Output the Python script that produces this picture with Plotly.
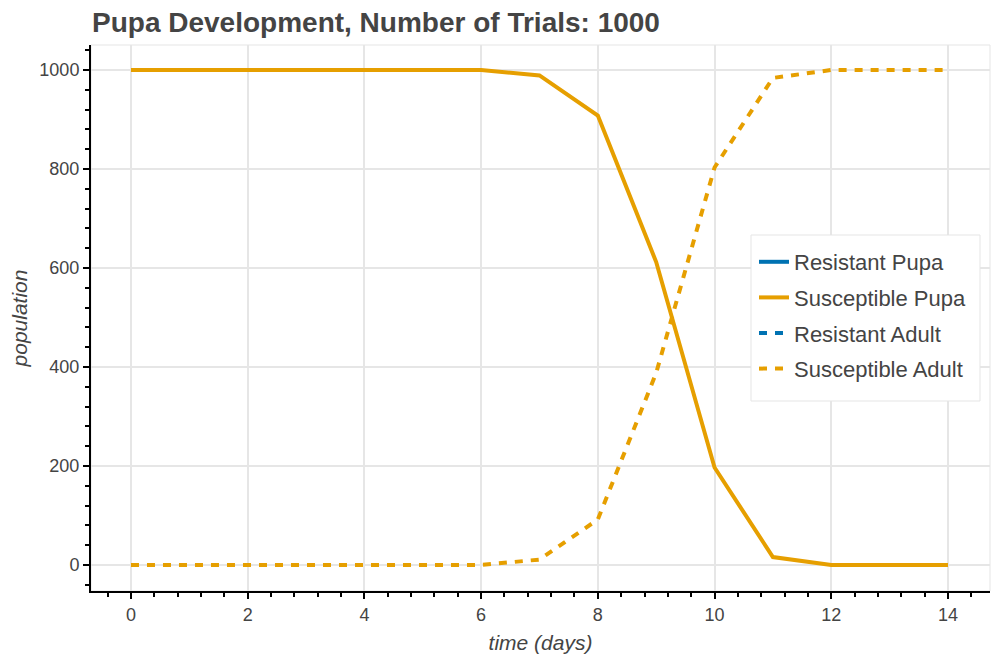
import plotly.graph_objects as go

days = list(range(15))
# resistant series carry no data points in the reference (nothing drawn)
resistant_pupa = [None]*15
susceptible_pupa = [1000, 1000, 1000, 1000, 1000, 1000, 1000, 989, 908, 612, 197, 16, 0, 0, 0]
resistant_adult = [None]*15
susceptible_adult = [0, 0, 0, 0, 0, 0, 0, 11, 92, 388, 803, 984, 1000, 1000, 1000]

BLUE = "#0072B2"
ORANGE = "#E69F00"
FONT = "Liberation Sans, Arial, Helvetica, sans-serif"
TXT = "#444444"

fig = go.Figure()
series = [
    ("Resistant Pupa", resistant_pupa, BLUE, "solid"),
    ("Susceptible Pupa", susceptible_pupa, ORANGE, "solid"),
    ("Resistant Adult", resistant_adult, BLUE, "8px,8px"),
    ("Susceptible Adult", susceptible_adult, ORANGE, "8px,8px"),
]
for i, (name, vals, col, dash) in enumerate(series):
    fig.add_trace(go.Scatter(x=days, y=vals, mode="lines", name=name,
                             legendgroup=f"g{i}", showlegend=True,
                             line=dict(color=col, width=4, dash=dash)))

axis_common = dict(
    showline=True, linecolor="black", linewidth=2,
    ticks="outside", ticklen=6, tickwidth=1.5, tickcolor="black",
    showgrid=True, gridcolor="#e6e6e6", gridwidth=2,
    zeroline=False,
    tickfont=dict(family=FONT, size=18, color=TXT),
)

PW, PH, L, B = 899, 546, 91, 591
fig.update_layout(
    width=997, height=662,
    margin=dict(l=91, r=7, t=45, b=71),
    paper_bgcolor="white", plot_bgcolor="white",
    title=dict(text="<b>Pupa Development, Number of Trials: 1000</b>",
               x=92/997, xanchor="left", y=1-22/662, yanchor="middle",
               font=dict(family=FONT, size=28, color=TXT)),
    xaxis=dict(range=[-0.685, 14.72], tickmode="linear", tick0=0, dtick=2,
               minor=dict(ticks="outside", ticklen=4, tickwidth=1.5, tickcolor="black",
                          dtick=0.4, tick0=0, showgrid=False),
               title=dict(text="<i>time (days)</i>", standoff=12,
                          font=dict(family=FONT, size=21, color=TXT)),
               **axis_common),
    yaxis=dict(range=[-52.5, 1050.5], tickmode="linear", tick0=0, dtick=200,
               minor=dict(ticks="outside", ticklen=4, tickwidth=1.5, tickcolor="black",
                          dtick=40, tick0=0, showgrid=False),
               title=dict(text="<i>population</i>", standoff=6,
                          font=dict(family=FONT, size=21, color=TXT)),
               **axis_common),
    legend=dict(x=(754-L)/PW, y=(B-241)/PH, xanchor="left", yanchor="top",
                bgcolor="rgba(0,0,0,0)", borderwidth=0,
                font=dict(family=FONT, size=22, color=TXT),
                itemwidth=30, tracegroupgap=4, traceorder="grouped"),
    shapes=[dict(type="rect", xref="paper", yref="paper", x0=0, x1=1, y0=0, y1=1,
                 line=dict(color="#e5e5e5", width=1), layer="below"),
            dict(type="rect", xref="paper", yref="paper",
                 x0=(751-L)/PW, x1=(980-L)/PW, y0=(B-401)/PH, y1=(B-235)/PH,
                 fillcolor="white", line=dict(color="#e5e5e5", width=1), layer="above")],
)

fig.write_html("out.html")
